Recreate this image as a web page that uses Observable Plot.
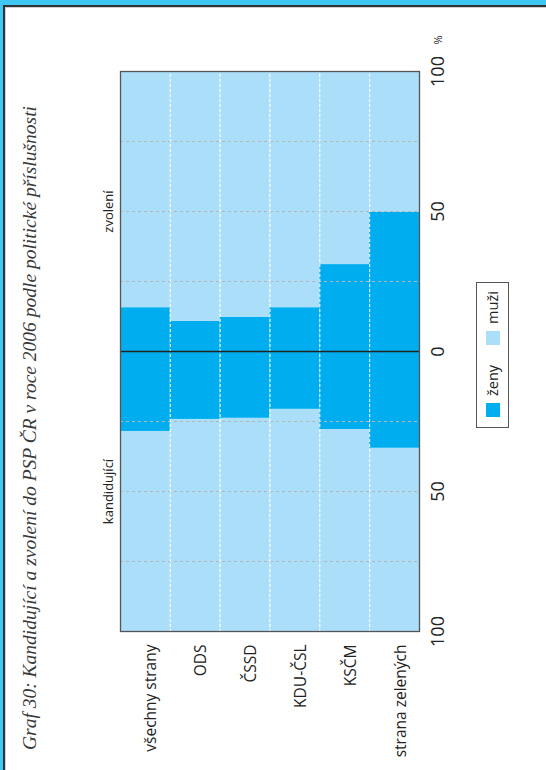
<!DOCTYPE html>
<html>
<head>
<meta charset="utf-8">
<script src="https://cdn.jsdelivr.net/npm/d3@7"></script>
<script src="https://cdn.jsdelivr.net/npm/@observablehq/plot@0.6"></script>
<style>
html, body { margin: 0; padding: 0; background: #fff; width: 546px; height: 770px; overflow: hidden; }
#bt { position: absolute; left: 0; top: 0; width: 546px; height: 5px; background: #3fc6f3; }
#bl { position: absolute; left: 0; top: 0; width: 3px; height: 770px; background: #3fc6f3; }
#lt { position: absolute; left: 3px; top: 5px; width: 543px; height: 2px; background: #333; }
#ll { position: absolute; left: 3px; top: 5px; width: 2px; height: 765px; background: #333; }
#lt2 { position: absolute; left: 5px; top: 7px; width: 541px; height: 1px; background: #cfcfcf; }
#ll2 { position: absolute; left: 5px; top: 7px; width: 1px; height: 763px; background: #cfcfcf; }
#rot { position: absolute; left: 0; top: 0; width: 770px; height: 546px; transform-origin: 0 0; transform: translate(0, 770px) rotate(-90deg); }
#chart { position: absolute; left: 0; top: 0; }
#title { position: absolute; left: 20px; top: 20px; font: italic 19.5px "Liberation Serif", serif; line-height: 20px; color: #3a3a3a; white-space: nowrap; }
#legend { position: absolute; left: 342px; top: 476px; width: 144px; height: 31px; border: 1.3px solid #555; font: 14.5px "Open Sans", sans-serif; color: #222; display: flex; align-items: center; box-sizing: content-box; }
.sw { width: 14px; height: 14px; display: inline-block; }
.item { display: flex; align-items: center; }
</style>
</head>
<body>
<div id="bt"></div><div id="bl"></div><div id="lt"></div><div id="ll"></div><div id="lt2"></div><div id="ll2"></div>
<div id="rot">
  <div id="chart"></div>
  <div id="title">Graf 30: Kandidující a zvolení do PSP ČR v roce 2006 podle politické příslušnosti</div>
  <div id="legend"></div>
</div>
<script>
const categories = ["všechny strany", "ODS", "ČSSD", "KDU-ČSL", "KSČM", "strana zelených"];
const kandidujiciZeny = [28.2, 23.9, 23.5, 20.3, 27.5, 34.2];
const zvoleniZeny = [16.0, 11.1, 12.5, 16.0, 31.4, 50.0];
const xTicks = [-100, -50, 0, 50, 100];
const gridValues = [-75, -50, -25, 25, 50, 75];
const sideLabels = [{x: -50, text: "kandidující"}, {x: 50, text: "zvolení"}];
const sexes = ["ženy", "muži"];
const sexColors = ["#00aeef", "#abdff9"];

const rows = categories.flatMap((c, i) => [
  {i, sex: "muži", x1: -100, x2: -kandidujiciZeny[i]},
  {i, sex: "ženy", x1: -kandidujiciZeny[i], x2: 0},
  {i, sex: "ženy", x1: 0, x2: zvoleniZeny[i]},
  {i, sex: "muži", x1: zvoleniZeny[i], x2: 100}
]);

const chart = Plot.plot({
  width: 770,
  height: 546,
  marginLeft: 138,
  marginRight: 72,
  marginTop: 120,
  marginBottom: 127,
  style: {fontFamily: "'Open Sans', sans-serif", color: "#222", background: "transparent", overflow: "visible"},
  x: {domain: [-100, 100]},
  y: {domain: [0, categories.length], reverse: true},
  color: {domain: sexes, range: sexColors},
  marks: [
    Plot.rect(rows, {x1: "x1", x2: "x2", y1: "i", y2: d => d.i + 1, fill: "sex"}),
    Plot.ruleX(gridValues, {stroke: "#b5b5b5", strokeDasharray: "3,3", strokeWidth: 1}),
    Plot.ruleY(d3.range(1, categories.length), {stroke: "#ffffff", strokeDasharray: "3,2", strokeWidth: 1}),
    Plot.ruleX([0], {stroke: "#222", strokeWidth: 1.5}),
    Plot.frame({stroke: "#555", strokeWidth: 1.3}),
    Plot.axisX(xTicks, {tickSize: 0, tickPadding: 12, fontSize: 18, tickFormat: d => Math.abs(d), label: null}),
    Plot.text(["%"], {frameAnchor: "bottom-right", dx: 27, dy: 22, fontSize: 11, textAnchor: "start"}),
    Plot.axisY(categories.map((c, i) => i + 0.5), {tickSize: 0, tickPadding: 13, fontSize: 15.5, dy: 6, tickFormat: d => categories[d - 0.5], label: null}),
    Plot.text(sideLabels, {x: "x", text: "text", frameAnchor: "top", dy: -17, fontSize: 13})
  ]
});
document.getElementById("chart").appendChild(chart);

const legend = document.getElementById("legend");
sexes.forEach((s, k) => {
  const item = document.createElement("div");
  item.className = "item";
  item.style.marginLeft = k === 0 ? "10px" : "20px";
  const sw = document.createElement("span");
  sw.className = "sw";
  sw.style.background = sexColors[k];
  const t = document.createElement("span");
  t.textContent = s;
  t.style.marginLeft = "7px";
  item.appendChild(sw);
  item.appendChild(t);
  legend.appendChild(item);
});
</script>
</body>
</html>
